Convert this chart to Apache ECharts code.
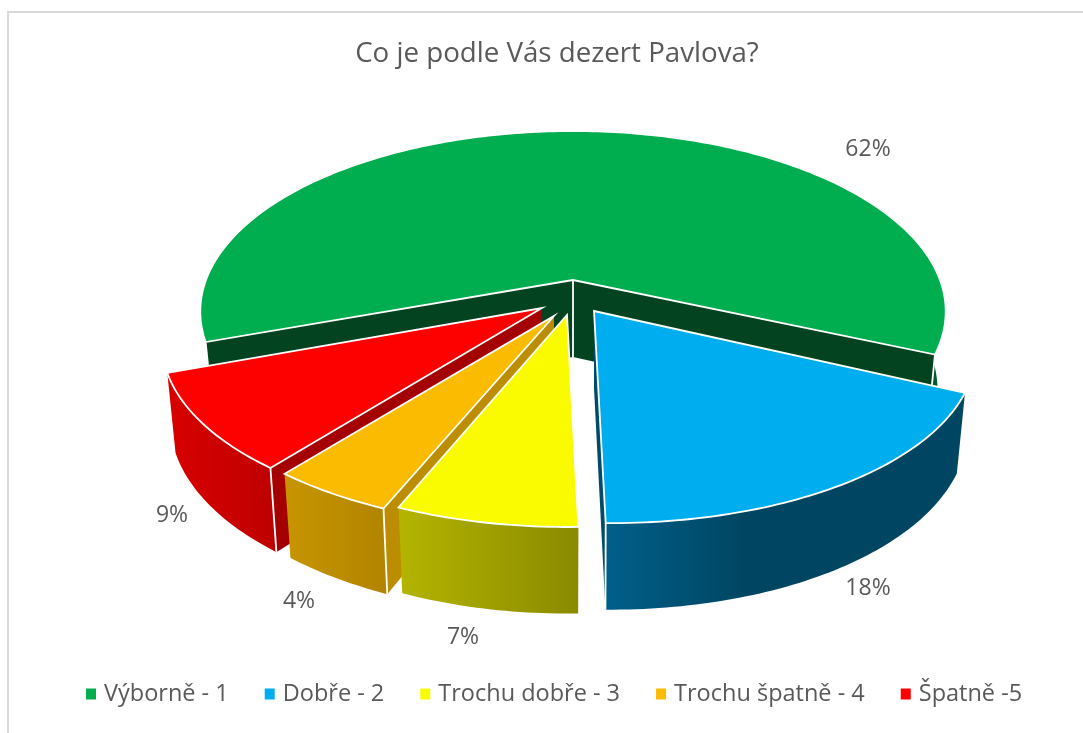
<!DOCTYPE html>
<html>
<head>
<meta charset="utf-8">
<style>html,body{margin:0;padding:0;background:#fff}#c{width:1083px;height:733px}</style>
<script src="https://cdn.jsdelivr.net/npm/echarts@6/dist/echarts.min.js"></script>
</head>
<body>
<div id="c"></div>
<script>
const titleText = 'Co je podle Vás dezert Pavlova?';
const categories = ['Výborně - 1', 'Dobře - 2', 'Trochu dobře - 3', 'Trochu špatně - 4', 'Špatně -5'];
const values = [61.9, 18.1, 6.7, 4.49, 8.8];
const topColors = ['#00AD4F', '#00AEEF', '#FBFB00', '#FBBB00', '#FD0000'];
const radialColors = ['#03431F', '#004A6B', '#8C8C00', '#BC8D00', '#A50000'];
const wallFrom = ['#035A2A', '#005F8A', '#B4B400', '#C89500', '#D80000'];
const wallTo = ['#035A2A', '#004561', '#8A8A00', '#B18400', '#BE0000'];
const explodeX = [0, 21, -6, -19, -31];
const explodeY = [0, 31, 35, 36, 28];
const scaleX = [1, 1.025, 1, 1.012, 1.02];
const shearY = [0, 0.02, 0, 0, -0.008];
const labelX = [868, 868, 463, 299, 172];
const labelY = [149, 588, 637, 601, 515];
const drawOrder = [1, 4, 5, 3, 2];
const startAngle = 160.5;

const CX = 573, CY = 280, AX = 367, AY = 175, P = 0.1745, DEPTH = 77, KX = 0.978, KY = 1.045;
const rad = d => d * Math.PI / 180;
function planar(t, i) {
  const c = Math.cos(rad(t)), s = Math.sin(rad(t)), w = 1 - P * s;
  const x = AX * c / w, y = AY * s / w;
  return [x * scaleX[i], y + x * shearY[i]];
}
function topPt(t, i) {
  const q = planar(t, i);
  return [CX + explodeX[i] + q[0], CY + explodeY[i] + q[1]];
}
function botPt(t, i) {
  const q = planar(t, i);
  return [CX + explodeX[i] + q[0] * KX, CY + explodeY[i] + DEPTH + q[1] * KY];
}
function apexTop(i) { return [CX + explodeX[i], CY + explodeY[i]]; }
function apexBot(i) { return [CX + explodeX[i], CY + explodeY[i] + DEPTH]; }
const total = values.reduce((a, b) => a + b, 0);
const spans = [];
values.reduce((acc, v) => { const e = acc + v / total * 360; spans.push([acc, e]); return e; }, startAngle);

function arc(a, b) {
  const out = [], n = Math.max(2, Math.ceil(Math.abs(b - a)));
  for (let k = 0; k <= n; k++) out.push(a + (b - a) * k / n);
  return out;
}
function radialVisible(t, mid, i) {
  const e = planar(t, i), m = planar(mid, i);
  const crossM = e[0] * m[1] - e[1] * m[0];
  const crossD = e[0];
  return crossM * crossD < 0;
}
function sliceChildren(i) {
  const [a, b] = spans[i];
  const mid = (a + b) / 2;
  const kids = [];
  const poly = (points, fill, stroke) => kids.push({
    type: 'polygon', shape: { points },
    style: { fill, stroke: stroke || null, lineWidth: stroke ? 1.8 : 0, lineJoin: 'miter' }
  });
  const line = (points) => kids.push({
    type: 'polyline', shape: { points },
    style: { fill: null, stroke: '#fff', lineWidth: 1.8 }
  });
  [[0, 180], [360, 540]].forEach(r => {
    const lo = Math.max(a, r[0]), hi = Math.min(b, r[1]);
    if (hi > lo) {
      const ts = arc(lo, hi);
      const pts = ts.map(t => topPt(t, i)).concat(ts.slice().reverse().map(t => botPt(t, i)));
      poly(pts, new echarts.graphic.LinearGradient(0, 0, 1, 0, [
        { offset: 0, color: wallFrom[i] }, { offset: i === 1 ? 0.4 : 1, color: wallTo[i] }, { offset: 1, color: wallTo[i] }
      ]));
    }
  });
  [a, b].forEach(t => {
    if (radialVisible(t, mid, i)) {
      poly([apexTop(i), topPt(t, i), botPt(t, i), apexBot(i)], radialColors[i]);
    }
  });
  [a, b].forEach(t => {
    if (radialVisible(t, mid, i)) line([topPt(t, i), botPt(t, i)]);
  });
  if (values[i] / total > 0.5) line([apexTop(i), apexBot(i)]);
  const topPts = [apexTop(i)].concat(arc(a, b).map(t => topPt(t, i)));
  poly(topPts, topColors[i], '#fff');
  return kids;
}
const chart = echarts.init(document.getElementById('c'), null, { renderer: 'canvas' });
const series = categories.map((name, i) => ({
  type: 'custom',
  name,
  coordinateSystem: 'none',
  z: drawOrder[i] + 2,
  animation: false,
  silent: true,
  itemStyle: { color: topColors[i] },
  data: [[values[i]]],
  renderItem: () => ({
    type: 'group',
    children: sliceChildren(i).concat([{
      type: 'text',
      style: {
        x: labelX[i], y: labelY[i], text: Math.round(values[i] / total * 100) + '%',
        fill: '#595959', fontSize: 23, fontFamily: 'Open Sans',
        align: 'center', verticalAlign: 'middle'
      }
    }])
  })
}));
chart.setOption({
  animation: false,
  backgroundColor: '#fff',
  title: {
    text: titleText, left: 552, textAlign: 'center', top: 35,
    textStyle: { color: '#595959', fontSize: 27.7, fontWeight: 'normal', fontFamily: 'Open Sans' }
  },
  legend: {
    data: categories, left: 81, top: 677, icon: 'rect', itemWidth: 10, itemHeight: 11,
    itemGap: 36, selectedMode: false,
    textStyle: { color: '#595959', fontSize: 23.5, fontFamily: 'Open Sans', padding: [0, 0, 0, 3] }
  },
  graphic: [{
    type: 'polyline', silent: true,
    shape: { points: [[8, 740], [8, 12], [1090, 12]] },
    style: { fill: null, stroke: '#D9D9D9', lineWidth: 2 }
  }],
  series
});
</script>
</body>
</html>
